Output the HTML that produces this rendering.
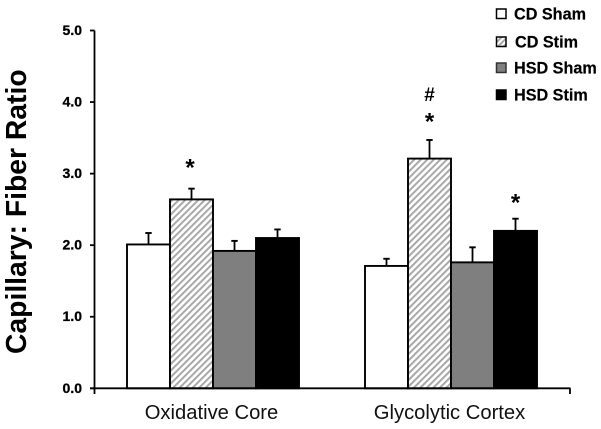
<!DOCTYPE html>
<html lang="en">
<head>
<meta charset="utf-8">
<title>Capillary: Fiber Ratio</title>
<style>
html,body{margin:0;padding:0;background:#fff;}
svg{display:block;font-family:"Liberation Sans",Arial,sans-serif;filter:blur(0.25px);}
</style>
</head>
<body>
<svg id="chart" width="601" height="429" viewBox="0 0 601 429" xmlns="http://www.w3.org/2000/svg">
<defs>
<pattern id="hatch" patternUnits="userSpaceOnUse" width="4.6" height="6" patternTransform="rotate(45)">
<rect width="4.6" height="6" fill="#fff"></rect>
<rect x="0" y="0" width="2" height="6" fill="#a8a8a8"></rect>
</pattern>
<pattern id="hatch-small" patternUnits="userSpaceOnUse" width="4" height="4" patternTransform="rotate(45)">
<rect width="4" height="4" fill="#fff"></rect>
<rect x="0" y="0" width="2" height="4" fill="#a8a8a8"></rect>
</pattern>
</defs>
<g id="bars"></g>
<g id="axes"></g>
<g id="notes"></g>
<g id="legend"></g>
<text transform="translate(26,354) rotate(-90)" font-size="28.3" font-weight="bold" fill="#000">Capillary: Fiber Ratio</text>
</svg>
<script>
var categories = ["Oxidative Core", "Glycolytic Cortex"];
var seriesNames = ["CD Sham", "CD Stim", "HSD Sham", "HSD Stim"];
var cdSham = [2.01, 1.71];
var cdStim = [2.64, 3.21];
var hsdSham = [1.92, 1.76];
var hsdStim = [2.10, 2.20];
var cdShamErr = [0.16, 0.10];
var cdStimErr = [0.15, 0.26];
var hsdShamErr = [0.14, 0.21];
var hsdStimErr = [0.12, 0.17];
var yTicks = [0, 1, 2, 3, 4, 5];
var marks = [
  { cat: 0, series: 1, text: "*", gap: 13, nudge: -1.5 },
  { cat: 1, series: 1, text: "*", gap: 10.5, nudge: 0 },
  { cat: 1, series: 1, text: "#", gap: 39, nudge: 0 },
  { cat: 1, series: 3, text: "*", gap: 8, nudge: 0 }
];

var values = [cdSham, cdStim, hsdSham, hsdStim];
var errors = [cdShamErr, cdStimErr, hsdShamErr, hsdStimErr];
var fills = ["#fff", "url(#hatch)", "#7f7f7f", "#000"];
var swatchFills = ["#fff", "url(#hatch-small)", "#7f7f7f", "#000"];
var NS = "http://www.w3.org/2000/svg";

function y(v) { return 388.3 - v * 71.56; }
function groupLeft(c) { return 127 + c * 238; }
function barX(c, s) { return groupLeft(c) + s * 43; }

function el(parent, tag, attrs, text) {
  var n = document.createElementNS(NS, tag);
  for (var k in attrs) { n.setAttribute(k, attrs[k]); }
  if (text !== undefined) { n.textContent = text; }
  parent.appendChild(n);
  return n;
}

var barsG = document.getElementById("bars");
var axesG = document.getElementById("axes");
var notesG = document.getElementById("notes");
var legendG = document.getElementById("legend");

categories.forEach(function (cat, c) {
  values.forEach(function (vals, s) {
    var x = barX(c, s);
    var cx = x + 21.5;
    var top = y(vals[c]);
    var errTop = y(vals[c] + errors[s][c]);

    var stem = el(barsG, "line", { x1: cx, x2: cx, y1: top, y2: errTop, stroke: "#000", "stroke-width": 1.8 });
    
    

    var cap = el(barsG, "line", { x1: cx - 3.2, x2: cx + 3.2, y1: errTop, y2: errTop, stroke: "#000", "stroke-width": 1.9 });
    
    

    var bar = el(barsG, "rect", { x: x, y: top, width: 43, height: y(0) - top, fill: fills[s], stroke: "#000", "stroke-width": 1.9 });
    
    
  });

  var label = el(axesG, "text", { x: c === 0 ? 211.5 : 449.5, y: 419, "font-size": 20.2, "text-anchor": "middle", fill: "#111" }, cat);
  
  
});

var yAxis = el(axesG, "line", { x1: 94.5, x2: 94.5, y1: y(5), y2: 394, stroke: "#000", "stroke-width": 1.8 });



var xAxis = el(axesG, "line", { x1: 90, x2: 570.5, y1: y(0), y2: y(0), stroke: "#000", "stroke-width": 1.8 });



var endTick = el(axesG, "line", { x1: 570, x2: 570, y1: y(0), y2: 394, stroke: "#000", "stroke-width": 1.8 });



yTicks.forEach(function (t) {
  var tick = el(axesG, "line", { x1: 90, x2: 94.5, y1: y(t), y2: y(t), stroke: "#000", "stroke-width": 1.8 });
  
  

  var tl = el(axesG, "text", { x: 82, y: y(t) + 4.5, "font-size": 14, "font-weight": "bold", "text-anchor": "end", fill: "#000", stroke: "#000", "stroke-width": 0.3 }, t.toFixed(1));
  
  
});

marks.forEach(function (m) {
  var cx = barX(m.cat, m.series) + 21.5 + m.nudge;
  var top = y(values[m.series][m.cat] + errors[m.series][m.cat]);
  var t = el(notesG, "text", { x: cx, y: top - m.gap, "font-size": m.text === "*" ? 24 : 19, "font-weight": "bold", "text-anchor": "middle", fill: "#000" }, m.text);
  
  
});

var legendRows = [14, 42, 68, 95];
seriesNames.forEach(function (name, s) {
  var sw = el(legendG, "rect", { x: 496.5, y: legendRows[s] - 5, width: 9.5, height: 9.5, fill: swatchFills[s], stroke: s === 2 ? "#333" : "#000", "stroke-width": 1.5 });
  
  

  var lt = el(legendG, "text", { x: s === 1 ? 515 : 514, y: legendRows[s] + 5.5, "font-size": 16.2, "font-weight": "bold", fill: "#000", stroke: "#000", "stroke-width": 0.2 }, name);
  
  
});
</script>
</body>
</html>
